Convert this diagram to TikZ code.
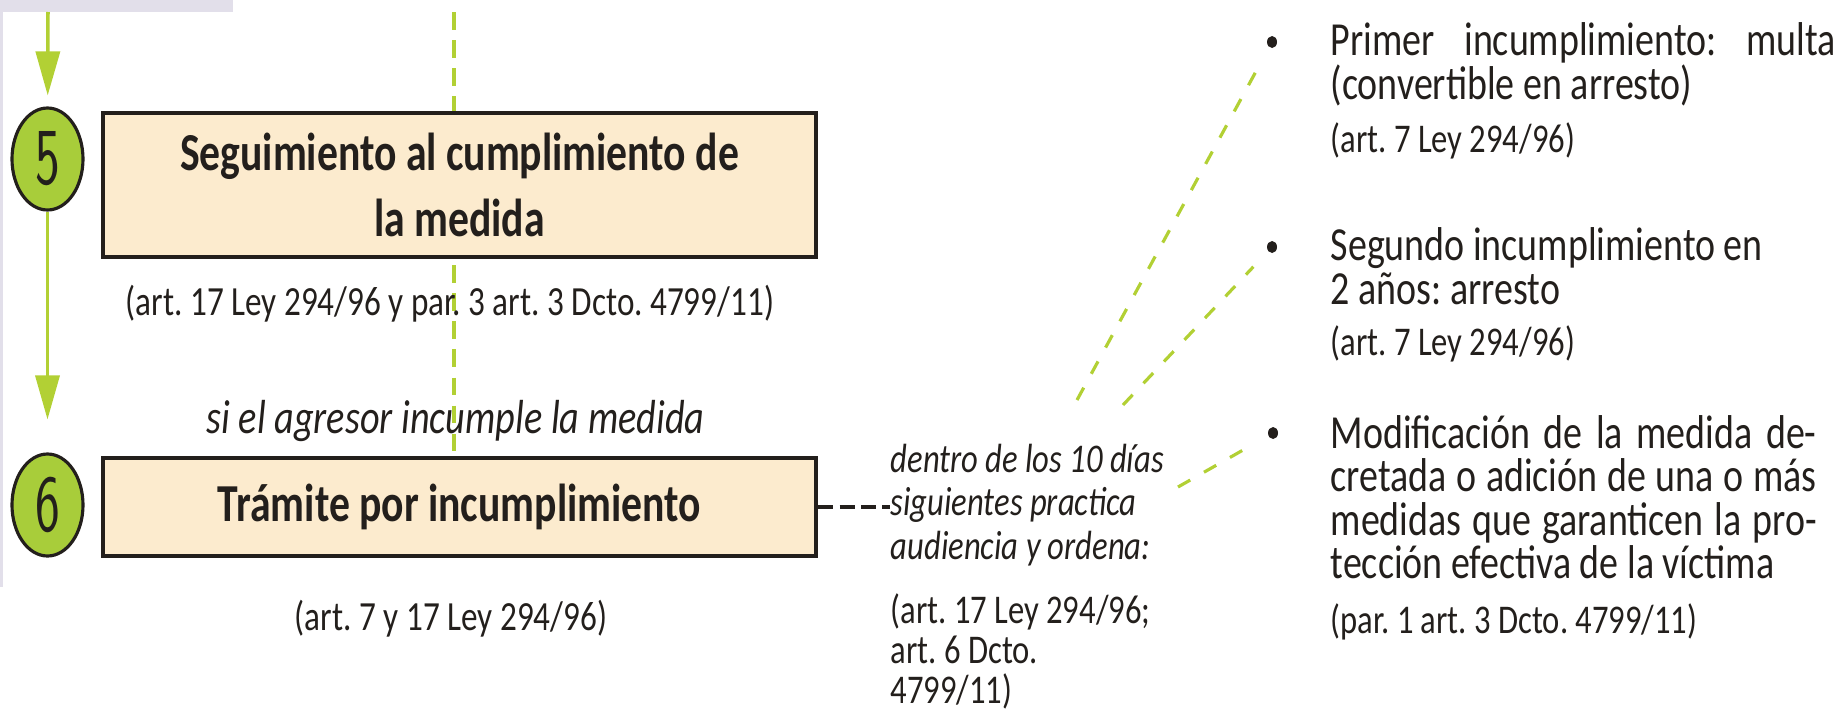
\documentclass[tikz,border=0pt]{standalone}
\usepackage{graphicx}
\usepackage{fontspec}
\setmainfont{Carlito}[FakeStretch=0.8]
\newfontfamily\cajafont{Carlito}[FakeStretch=0.78]
\usetikzlibrary{arrows.meta,shapes.geometric}
\definecolor{lima}{RGB}{178,208,52}
\definecolor{limafill}{RGB}{168,205,58}
\definecolor{crema}{RGB}{252,235,206}
\definecolor{tinta}{RGB}{35,31,28}
\definecolor{velo}{RGB}{226,223,234}
\lineskiplimit=-20pt
\frenchspacing
\newcommand\natsp{\spaceskip=0pt\xspaceskip=0pt\relax}

\begin{document}
\begin{tikzpicture}[>={Triangle[length=4.4mm,width=2.4mm]},text=tinta,
  paso/.style={ellipse,draw=tinta,line width=0.9pt,fill=limafill,minimum width=0.71cm,minimum height=1.02cm,inner sep=0pt},
  caja/.style={draw=tinta,line width=1.2pt,fill=crema,minimum width=7.13cm,align=center,inner sep=0pt,font=\cajafont\bfseries\fontsize{15.2}{19}\selectfont},
  flecha/.style={->,lima,line width=1pt},
  guia/.style={lima,line width=0.9pt,dash pattern=on 4pt off 4.5pt},
  enlace/.style={tinta,line width=1.1pt,dash pattern=on 4.3pt off 1.8pt},
  cita/.style={inner sep=0pt,font=\fontsize{11.8}{12}\selectfont},
  nota/.style={anchor=base,inner sep=0pt,font=\itshape\fontsize{13.6}{14}\selectfont},
  plazo/.style={anchor=base west,text width=3.3cm,align=left,inner sep=0pt,font=\itshape\fontsize{11.6}{12.5}\selectfont},
  item/.style={anchor=base west,text width=5.1cm,align=left,inner sep=0pt,font=\fontsize{13.5}{12.7}\selectfont},
  vineta/.style={ellipse,fill=tinta,minimum width=0.1cm,minimum height=0.12cm,inner sep=0pt}]
\useasboundingbox (0,0) rectangle (18.39,7.18);
\fill[velo] (0,7.18) rectangle (2.33,7.06);
\draw[velo,line width=0.8pt] (0.015,7.06) -- (0.015,1.31);

\coordinate (guiatop) at (4.54,7.06);
\node[caja,minimum height=0.98cm] (b6) at (4.595,2.11) {Trámite por incumplimiento};
\draw[guia,dash pattern=on 5pt off 3pt] (guiatop) -- (guiatop |- b6.north);
\node[caja,minimum height=1.44cm] (b5) at (4.595,5.33) {Seguimiento al cumplimiento de\\la medida};

\node[paso] (c5) at (0.475,5.59) {\sffamily\fontsize{23}{23}\selectfont\scalebox{0.65}[1]{5}};
\node[paso] (c6) at (0.475,2.13) {\sffamily\fontsize{23}{23}\selectfont\scalebox{0.65}[1]{6}};
\coordinate (inicio) at (0.48,7.06);
\draw[flecha,shorten >=0.11cm] (inicio) -- (c5);
\draw[flecha,shorten >=0.33cm] (c5) -- (c6);

\node[cita,anchor=base] (cita5) at (4.50,4.03) {(art. 17 Ley 294/96 y par. 3 art. 3 Dcto. 4799/11)};
\node[nota] (si) at (4.555,2.85) {si el agresor incumple la medida};
\node[cita,anchor=base] (cita6) at (4.51,0.88) {(art. 7 y 17 Ley 294/96)};

\node[plazo] (plazo) at (8.90,2.46) {\natsp dentro de los 10 días\\siguientes practica\\audiencia y ordena:};
\node[plazo,font=\fontsize{11.6}{11.5}\selectfont] (plazocita) at (8.90,0.95) {\natsp (art. 17 Ley 294/96;\\art. 6 Dcto.\\4799/11)};
\draw[enlace] (b6.east) -- (b6.east -| plazo.west);

\node[vineta] (d1) at (12.72,6.76) {};
\node[vineta] (d2) at (12.72,4.71) {};
\node[vineta] (d3) at (12.73,2.85) {};
\coordinate (a1) at (10.77,3.18);
\coordinate (a2) at (11.23,3.13);
\coordinate (a3) at (11.78,2.31);
\draw[guia,shorten >=0.19cm] (a1) -- (d1);
\draw[guia,shorten >=0.21cm] (a2) -- (d2);
\draw[guia,shorten >=0.2cm] (a3) -- (d3);

\node[item] (t1) at (13.30,6.63) {\natsp\makebox[5.05cm][s]{Primer incumplimiento: multa}\\(convertible en arresto)};
\node[cita,anchor=base west,font=\fontsize{11.6}{12}\selectfont] (r1) at (13.30,5.66) {(art. 7 Ley 294/96)};
\node[item] (t2) at (13.30,4.58) {\natsp Segundo incumplimiento en\\2 años: arresto};
\node[cita,anchor=base west,font=\fontsize{11.6}{12}\selectfont] (r2) at (13.30,3.63) {(art. 7 Ley 294/96)};
\node[item,font=\fontsize{13.5}{12.4}\selectfont] (t3) at (13.30,2.70) {\natsp\makebox[4.86cm][s]{Modificación de la medida de-}\\\makebox[4.86cm][s]{cretada o adición de una o más}\\\makebox[4.86cm][s]{medidas que garanticen la pro-}\\tección efectiva de la víctima};
\node[cita,anchor=base west,font=\fontsize{11.6}{12}\selectfont] (r3) at (13.30,0.85) {(par. 1 art. 3 Dcto. 4799/11)};
\end{tikzpicture}
\end{document}
